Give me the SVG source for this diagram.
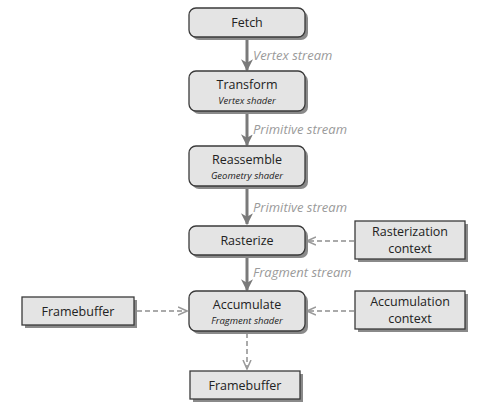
<svg xmlns="http://www.w3.org/2000/svg" width="487" height="409" viewBox="0 0 487 409">
<defs>
<marker id="ah" viewBox="0 0 10 10" refX="9" refY="5" markerWidth="4" markerHeight="4" orient="auto" markerUnits="strokeWidth">
<path d="M0,0 L10,5 L0,10 L3,5 Z" fill="#7a7a7a"/>
</marker>
<marker id="ad" viewBox="0 0 10 10" refX="9" refY="5" markerWidth="5" markerHeight="5" orient="auto" markerUnits="strokeWidth">
<path d="M0,1 L9,5 L0,9" fill="none" stroke="#999" stroke-width="1.5"/>
</marker>
</defs>
<style>
.shadow{fill:#8a8a8a;}
.box{fill:#e4e4e4;stroke:#3a3a3a;stroke-width:1.3;}
.t{font-family:"Open Sans","DejaVu Sans",sans-serif;font-size:12.5px;fill:#222;text-anchor:middle;}
.s{font-family:"Open Sans","DejaVu Sans",sans-serif;font-size:9.5px;font-style:italic;fill:#222;text-anchor:middle;}
.lbl{font-family:"Open Sans","DejaVu Sans",sans-serif;font-size:13px;font-style:italic;fill:#9a9a9a;stroke:#fff;stroke-width:2.5;paint-order:stroke;}
.solid{stroke:#7a7a7a;stroke-width:3;fill:none;marker-end:url(#ah);}
.dash{stroke:#aaa;stroke-width:2;stroke-dasharray:5 3;fill:none;marker-end:url(#ad);}
</style>
<g id="connectors">
<line class="solid" x1="247" y1="38" x2="247" y2="70"/>
<line class="solid" x1="247" y1="112" x2="247" y2="145"/>
<line class="solid" x1="247" y1="189" x2="247" y2="224"/>
<line class="solid" x1="247" y1="256" x2="247" y2="290"/>
<line class="dash" x1="354" y1="241" x2="307" y2="241"/>
<line class="dash" x1="137" y1="311" x2="187" y2="311"/>
<line class="dash" x1="354" y1="311" x2="307" y2="311"/>
<line class="dash" x1="247" y1="333" x2="247" y2="369"/>
<text class="lbl" x="253" y="60">Vertex stream</text>
<text class="lbl" x="253" y="134">Primitive stream</text>
<text class="lbl" x="253" y="212">Primitive stream</text>
<text class="lbl" x="253" y="277">Fragment stream</text>
</g>
<g id="fetch">
<rect class="shadow" x="192" y="11" width="116" height="29" rx="7"/>
<rect class="box" x="189" y="8" width="116" height="29" rx="7"/>
<text class="t" x="247" y="27">Fetch</text>
</g>
<g id="transform">
<rect class="shadow" x="192" y="74" width="116" height="40" rx="7"/>
<rect class="box" x="189" y="71" width="116" height="40" rx="7"/>
<text class="t" x="247" y="89">Transform</text>
<text class="s" x="247" y="104">Vertex shader</text>
</g>
<g id="reassemble">
<rect class="shadow" x="192" y="149" width="116" height="40" rx="7"/>
<rect class="box" x="189" y="146" width="116" height="40" rx="7"/>
<text class="t" x="247" y="164">Reassemble</text>
<text class="s" x="247" y="179">Geometry shader</text>
</g>
<g id="rasterize">
<rect class="shadow" x="192" y="229" width="116" height="29" rx="7"/>
<rect class="box" x="189" y="226" width="116" height="29" rx="7"/>
<text class="t" x="247" y="245">Rasterize</text>
</g>
<g id="accumulate">
<rect class="shadow" x="192" y="294" width="116" height="40" rx="7"/>
<rect class="box" x="189" y="291" width="116" height="40" rx="7"/>
<text class="t" x="247" y="309">Accumulate</text>
<text class="s" x="247" y="324">Fragment shader</text>
</g>
<g id="rastctx">
<rect class="shadow" x="358" y="224" width="110" height="38"/>
<rect class="box" x="355" y="221" width="110" height="38"/>
<text class="t" x="410" y="236">Rasterization</text>
<text class="t" x="410" y="253">context</text>
</g>
<g id="accctx">
<rect class="shadow" x="358" y="294" width="110" height="38"/>
<rect class="box" x="355" y="291" width="110" height="38"/>
<text class="t" x="410" y="306">Accumulation</text>
<text class="t" x="410" y="323">context</text>
</g>
<g id="fbleft">
<rect class="shadow" x="25" y="300" width="112" height="28"/>
<rect class="box" x="22" y="297" width="112" height="28"/>
<text class="t" x="78" y="316">Framebuffer</text>
</g>
<g id="fbbottom">
<rect class="shadow" x="193" y="374" width="110" height="28"/>
<rect class="box" x="190" y="371" width="110" height="28"/>
<text class="t" x="245" y="390">Framebuffer</text>
</g>
</svg>
